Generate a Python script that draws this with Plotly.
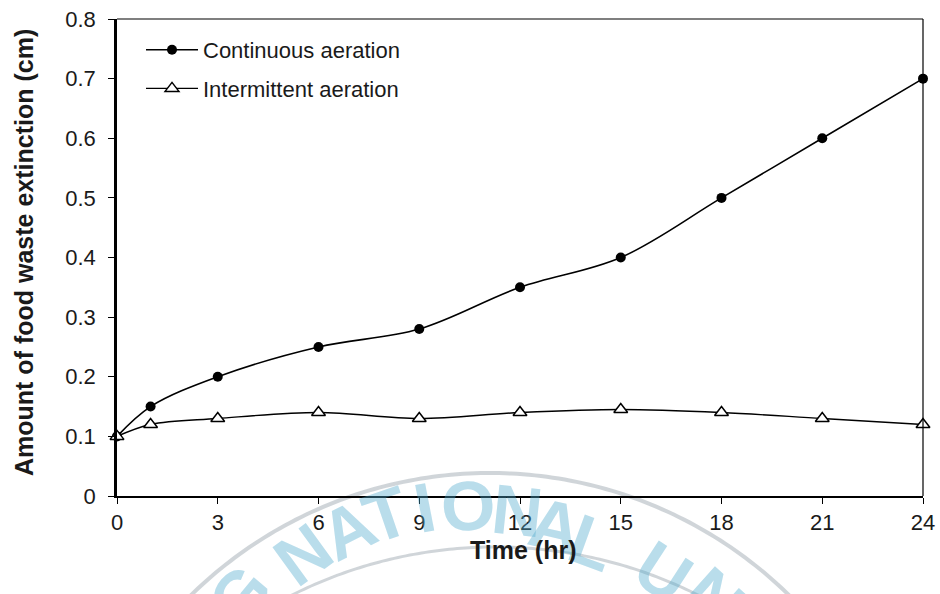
import numpy as np
import plotly.graph_objects as go

# ---- data -------------------------------------------------------------
time_hr = [0, 1, 3, 6, 9, 12, 15, 18, 21, 24]
continuous_aeration = [0.10, 0.15, 0.20, 0.25, 0.28, 0.35, 0.40, 0.50, 0.60, 0.70]
intermittent_aeration = [0.10, 0.12, 0.13, 0.14, 0.13, 0.14, 0.145, 0.14, 0.13, 0.12]

x_tick_vals = [0, 3, 6, 9, 12, 15, 18, 21, 24]
y_tick_vals = [0, 0.1, 0.2, 0.3, 0.4, 0.5, 0.6, 0.7, 0.8]
y_tick_text = ["0", "0.1", "0.2", "0.3", "0.4", "0.5", "0.6", "0.7", "0.8"]

series_names = ["Continuous aeration", "Intermittent aeration"]
x_title = "Time (hr)"
y_title = "Amount of food waste extinction (cm)"

# ---- layout geometry (pixels) ----------------------------------------
W, H = 940, 594
ML, MR, MT, MB = 117, 17, 19, 98
PW, PH = W - ML - MR, H - MT - MB

FONT = "Liberation Sans, Arial, sans-serif"
INK = "#1a1a1a"


def px_to_paper(px, py):
    return (px - ML) / PW, (MT + PH - py) / PH


fig = go.Figure()

fig.add_trace(go.Scatter(
    x=time_hr, y=continuous_aeration, name=series_names[0],
    mode="lines+markers", line=dict(color="black", width=1.6, shape="spline", smoothing=1.0),
    marker=dict(symbol="circle", size=10, color="black"),
    cliponaxis=False, legendgroup="a",
))
fig.add_trace(go.Scatter(
    x=time_hr, y=intermittent_aeration, name=series_names[1],
    mode="lines+markers", line=dict(color="black", width=1.4, shape="spline", smoothing=1.0),
    marker=dict(symbol="triangle-up", size=12, color="white",
                line=dict(color="black", width=1.5)),
    cliponaxis=False, legendgroup="b",
))

# ---- faint seal watermark across the lower part ----------------------
seal_blue = "rgba(80,170,205,0.40)"
seal_ring = "rgba(170,178,186,0.55)"


def ring_path(cx, cy, r, a0, a1, n=120):
    ang = np.radians(np.linspace(a0, a1, n))
    pts = [px_to_paper(cx + r * np.sin(a), cy - r * np.cos(a)) for a in ang]
    return "M " + " L ".join(f"{x:.5f},{y:.5f}" for x, y in pts)


shapes = [
    dict(type="path", xref="paper", yref="paper", layer="below",
         path=ring_path(490, 900, 427, -48, 48), line=dict(color=seal_ring, width=4)),
    dict(type="path", xref="paper", yref="paper", layer="below",
         path=ring_path(495, 1000, 453, -30, 30), line=dict(color=seal_ring, width=3)),
    # top and right frame lines
    dict(type="line", xref="paper", yref="paper", x0=0, x1=1, y0=1, y1=1,
         line=dict(color="black", width=1.2)),
    dict(type="line", xref="paper", yref="paper", x0=1, x1=1, y0=0, y1=1,
         line=dict(color="black", width=1.2)),
]

seal_letters = [
    ("G", 240, 596, -50), ("N", 303, 555, -36), ("A", 348, 530, -27),
    ("T", 386, 515, -19), ("I", 424, 508, -11), ("O", 468, 506, -3),
    ("N", 517, 511, 6), ("A", 555, 526, 13), ("L", 592, 543, 20),
    ("U", 663, 572, 33), ("N", 714, 598, 42),
]

annotations = []
for ch, lx, ly, rot in seal_letters:
    xp, yp = px_to_paper(lx, ly)
    annotations.append(dict(
        text=ch, x=xp, y=yp, xref="paper", yref="paper", showarrow=False,
        xanchor="center", yanchor="middle", textangle=rot,
        font=dict(family=FONT, size=70, color=seal_blue, weight="bold"),
    ))

# axis titles
xt = px_to_paper(523, 550)
yt = px_to_paper(24, 253)
annotations.append(dict(
    text=x_title, x=xt[0], y=xt[1], xref="paper", yref="paper", showarrow=False,
    xanchor="center", yanchor="middle",
    font=dict(family=FONT, size=25, color=INK, weight="bold"),
))
annotations.append(dict(
    text=y_title, x=yt[0], y=yt[1], xref="paper", yref="paper", showarrow=False,
    xanchor="center", yanchor="middle", textangle=-90,
    font=dict(family=FONT, size=25, color=INK, weight="bold"),
))

leg_x, leg_y = px_to_paper(141, 29)

fig.update_layout(
    width=W, height=H,
    margin=dict(l=ML, r=MR, t=MT, b=MB, autoexpand=False),
    paper_bgcolor="white", plot_bgcolor="white",
    font=dict(family=FONT, color=INK, size=22),
    showlegend=True,
    legend=dict(
        x=leg_x, y=leg_y, xanchor="left", yanchor="top",
        bgcolor="rgba(0,0,0,0)", borderwidth=0,
        font=dict(family=FONT, size=22, color=INK),
        traceorder="grouped", tracegroupgap=7, itemwidth=52,
    ),
    xaxis=dict(
        range=[0, 24], tickmode="array", tickvals=x_tick_vals,
        ticks="outside", ticklen=6, tickwidth=1.3, tickcolor="black",
        showline=True, linecolor="black", linewidth=2,
        showgrid=False, zeroline=False, automargin=False,
        tickfont=dict(family=FONT, size=22, color=INK),
    ),
    yaxis=dict(
        range=[0, 0.8], tickmode="array", tickvals=y_tick_vals, ticktext=y_tick_text,
        ticks="outside", ticklen=6, tickwidth=1.3, tickcolor="black",
        showline=True, linecolor="black", linewidth=2.5,
        showgrid=False, zeroline=False, automargin=False,
        tickfont=dict(family=FONT, size=22, color=INK),
        ticklabelstandoff=8,
    ),
    shapes=shapes,
    annotations=annotations,
)

fig.write_html("out.html")
